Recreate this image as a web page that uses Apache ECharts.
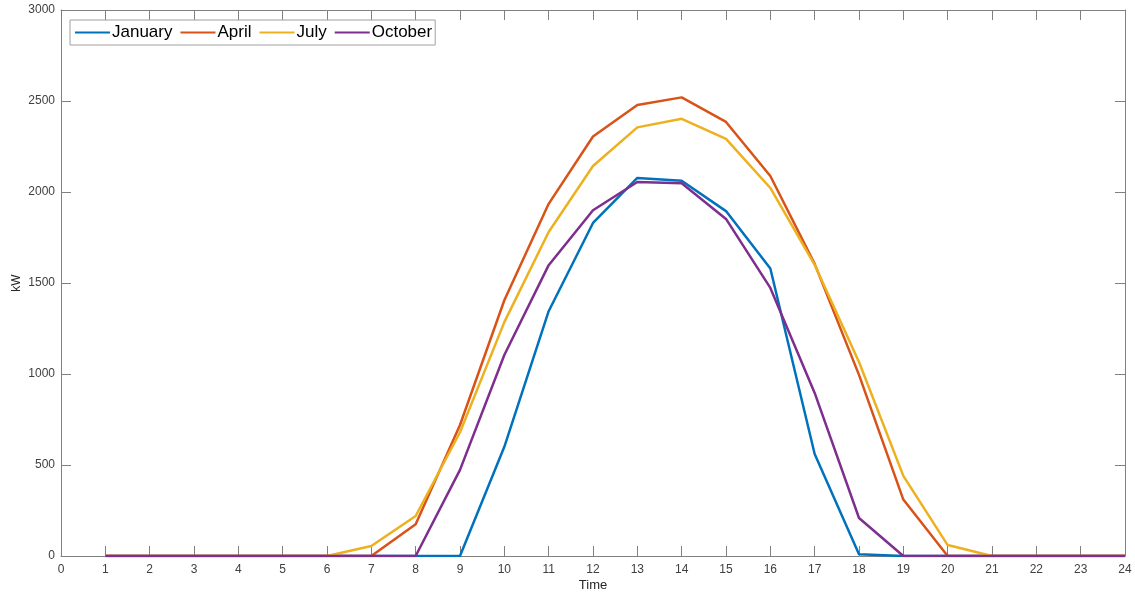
<!DOCTYPE html>
<html><head><meta charset="utf-8">
<script src="https://cdn.jsdelivr.net/npm/echarts@6/dist/echarts.min.js"></script>
<style>html,body{margin:0;padding:0;background:#fff}#c{width:1135px;height:597px}</style>
</head><body><div id="c"></div>
<script>
const hours = [1,2,3,4,5,6,7,8,9,10,11,12,13,14,15,16,17,18,19,20,21,22,23,24];
const january = [0,0,0,0,0,0,0,0,0,600,1345,1830,2077,2062,1895,1580,560,10,0,0,0,0,0,0];
const april   = [0,0,0,0,0,0,0,175,720,1405,1935,2305,2478,2520,2385,2088,1605,995,310,0,0,0,0,0];
const july    = [0,0,0,0,0,0,55,220,680,1285,1780,2143,2355,2402,2292,2022,1600,1066,440,60,0,0,0,0];
const october = [0,0,0,0,0,0,0,0,473,1104,1598,1900,2055,2048,1852,1473,896,209,0,0,0,0,0,0];
const seriesNames = ['January','April','July','October'];
const colors = ['#0072BD','#D95319','#EDB120','#7E2F8E'];
const xTicks = {min:0, max:24, interval:1};
const yTicks = {min:0, max:3000, interval:500};

const datasets = [january, april, july, october];
const axisCol = '#808080';
const labCol = '#404040';
const font = 'Liberation Sans, Arial';
const chart = echarts.init(document.getElementById('c'));
chart.setOption({
  animation:false,
  color: colors,
  grid:{left:61,right:10,top:10,bottom:41,containLabel:false,outerBoundsMode:'none'},
  legend:{
    left:70, top:20, orient:'horizontal',
    data: seriesNames,
    icon:'rect', itemWidth:35, itemHeight:2, itemGap:8,
    textStyle:{fontFamily:font, fontSize:17, color:'#000', padding:[0,0,0,-3]},
    borderColor:'#a0a0a0', borderWidth:1, padding:[4,3,4,5], backgroundColor:'#fff'
  },
  xAxis:[{
    type:'value', min:xTicks.min, max:xTicks.max, interval:xTicks.interval,
    name:'Time', nameLocation:'middle', nameGap:23, nameMoveOverlap:false,
    nameTextStyle:{fontFamily:font, fontSize:13, color:'#262626'},
    axisLine:{onZero:false, lineStyle:{color:axisCol}},
    axisTick:{inside:true, length:10, lineStyle:{color:axisCol}},
    axisLabel:{fontFamily:font, fontSize:12, color:labCol, margin:8},
    splitLine:{show:false}
  },{
    type:'value', position:'top', min:xTicks.min, max:xTicks.max, interval:xTicks.interval,
    axisLine:{show:true, onZero:false, lineStyle:{color:axisCol}},
    axisTick:{show:true, inside:true, length:10, lineStyle:{color:axisCol}},
    axisLabel:{show:false}, splitLine:{show:false}
  }],
  yAxis:[{
    type:'value', min:yTicks.min, max:yTicks.max, interval:yTicks.interval,
    name:'kW', nameLocation:'middle', nameGap:38, nameMoveOverlap:false,
    nameTextStyle:{fontFamily:font, fontSize:12, color:'#262626'},
    axisLine:{show:true, onZero:false, lineStyle:{color:axisCol}},
    axisTick:{show:true, inside:true, length:10, lineStyle:{color:axisCol}},
    axisLabel:{fontFamily:font, fontSize:12, color:labCol, margin:6, formatter:v=>String(v)},
    splitLine:{show:false}
  },{
    type:'value', position:'right', min:yTicks.min, max:yTicks.max, interval:yTicks.interval,
    axisLine:{show:true, onZero:false, lineStyle:{color:axisCol}},
    axisTick:{show:true, inside:true, length:10, lineStyle:{color:axisCol}},
    axisLabel:{show:false}, splitLine:{show:false}
  }],
  series: seriesNames.map((n,i)=>({
    name:n, type:'line', xAxisIndex:0, yAxisIndex:0,
    data: hours.map((h,j)=>[h, datasets[i][j]]),
    showSymbol:false, symbol:'none',
    lineStyle:{width:2.5, color:colors[i]}
  }))
});
</script></body></html>
